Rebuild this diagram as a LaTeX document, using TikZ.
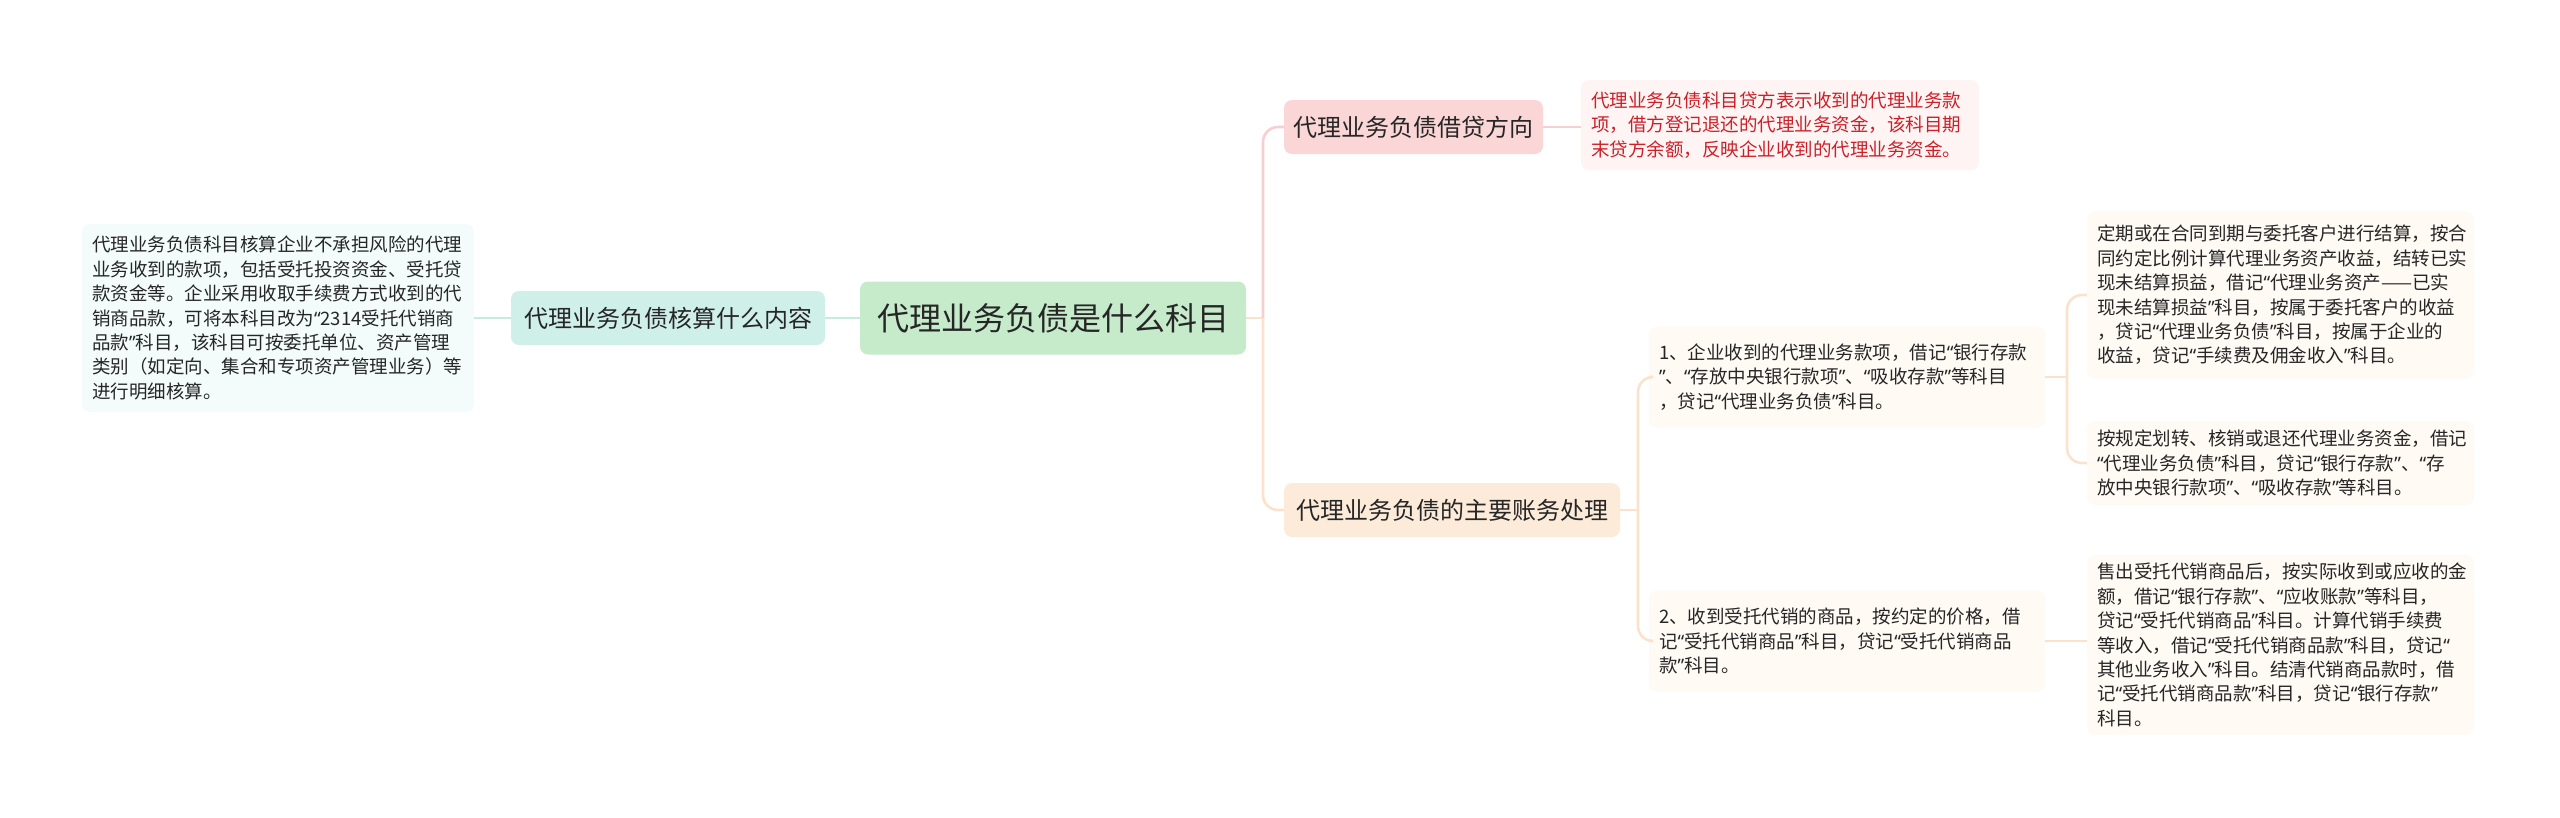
\documentclass[tikz,border=0pt]{standalone}
\usepackage{fontspec}
\setmainfont{Noto Sans CJK SC}
\newfontfamily\qfont{Noto Sans}
\catcode`“=13 \def“{{\qfont\char"201C}}
\catcode`”=13 \def”{{\qfont\char"201D}}
\definecolor{cfill}{HTML}{C6EBCB}
\definecolor{tealfill}{HTML}{CFEFE9}
\definecolor{tealleaf}{HTML}{F3FBFB}
\definecolor{tealline}{HTML}{C6EAE4}
\definecolor{pinkfill}{HTML}{FAD6D6}
\definecolor{pinkleaf}{HTML}{FDF4F3}
\definecolor{pinkline}{HTML}{F6D0D0}
\definecolor{peachfill}{HTML}{FDEBD9}
\definecolor{peachleaf}{HTML}{FFFAF4}
\definecolor{peachline}{HTML}{FBE2CC}
\definecolor{txt}{HTML}{262626}
\definecolor{redtxt}{HTML}{CC1F28}
\newcommand\fsbig{\fontsize{32}{38}\selectfont}
\newcommand\fsmid{\fontsize{24}{30}\selectfont}
\newcommand\fsleaf{\fontsize{18.5}{24.4}\selectfont}
\tikzset{
  box/.style={rounded corners=8pt, inner ysep=0pt, text=txt},
  leafbox/.style={box, align=left, inner xsep=10pt, font=\fsleaf},
  conn/.style={line width=2.6pt},
  rc/.style={rounded corners=15pt}
}
\begin{document}
\begin{tikzpicture}[x=1pt,y=-1pt]
\useasboundingbox (0,0) rectangle (2560,817);
% nodes
\node[box, fill=cfill, minimum width=386pt, minimum height=73pt, font=\fsbig] (central) at (1053,318) {代理业务负债是什么科目};
\node[box, fill=tealfill, minimum width=314pt, minimum height=54pt, font=\fsmid] (left) at (668,318) {代理业务负债核算什么内容};
\node[leafbox, fill=tealleaf, text width=372pt, minimum height=188pt] (lleaf) at (278,318) {代理业务负债科目核算企业不承担风险的代理\\业务收到的款项，包括受托投资资金、受托贷\\款资金等。企业采用收取手续费方式收到的代\\销商品款，可将本科目改为“2314受托代销商\\品款”科目，该科目可按委托单位、资产管理\\类别（如定向、集合和专项资产管理业务）等\\进行明细核算。};
\node[box, fill=pinkfill, minimum width=259pt, minimum height=54pt, font=\fsmid] (b1) at (1413.5,127) {代理业务负债借贷方向};
\node[leafbox, fill=pinkleaf, text=redtxt, text width=378pt, minimum height=90pt] (red) at (1780,125) {代理业务负债科目贷方表示收到的代理业务款\\项，借方登记退还的代理业务资金，该科目期\\末贷方余额，反映企业收到的代理业务资金。};
\node[box, fill=peachfill, minimum width=336pt, minimum height=54pt, font=\fsmid] (b2) at (1452,510) {代理业务负债的主要账务处理};
\node[leafbox, fill=peachleaf, text width=376pt, minimum height=101pt] (s1) at (1847,377) {1、企业收到的代理业务款项，借记“银行存款\\”、“存放中央银行款项”、“吸收存款”等科目\\，贷记“代理业务负债”科目。};
\node[leafbox, fill=peachleaf, text width=376pt, minimum height=101pt] (s2) at (1847,641) {2、收到受托代销的商品，按约定的价格，借\\记“受托代销商品”科目，贷记“受托代销商品\\款”科目。};
\node[leafbox, fill=peachleaf, text width=367pt, minimum height=167pt] (l1a) at (2280.5,295) {定期或在合同到期与委托客户进行结算，按合\\同约定比例计算代理业务资产收益，结转已实\\现未结算损益，借记“代理业务资产——已实\\现未结算损益”科目，按属于委托客户的收益\\，贷记“代理业务负债”科目，按属于企业的\\收益，贷记“手续费及佣金收入”科目。};
\node[leafbox, fill=peachleaf, text width=367pt, minimum height=84pt] (l1b) at (2280.5,463) {按规定划转、核销或退还代理业务资金，借记\\“代理业务负债”科目，贷记“银行存款”、“存\\放中央银行款项”、“吸收存款”等科目。};
\node[leafbox, fill=peachleaf, text width=367pt, minimum height=180pt] (l2a) at (2280.5,645) {售出受托代销商品后，按实际收到或应收的金\\额，借记“银行存款”、“应收账款”等科目，\\贷记“受托代销商品”科目。计算代销手续费\\等收入，借记“受托代销商品款”科目，贷记“\\其他业务收入”科目。结清代销商品款时，借\\记“受托代销商品款”科目，贷记“银行存款”\\科目。};
% connectors
\draw[conn, tealline] (lleaf.east) -- (left.west);
\draw[conn, tealline] (left.east) -- (central.west);
\coordinate (j1) at (1263,318);
\draw[conn, peachline] (central.east) -- (j1);
\draw[conn, pinkline, rc] (j1) |- (b1.west);
\draw[conn, peachline, rc] (j1) |- (b2.west);
\draw[conn, pinkline] (b1.east) -- (b1.east -| red.west);
\coordinate (j2) at (1638,510);
\draw[conn, peachline] (b2.east) -- (j2);
\draw[conn, peachline, rc] (j2) |- (s1.west);
\draw[conn, peachline, rc] (j2) |- (s2.west);
\coordinate (j3) at (2067,377);
\draw[conn, peachline] (s1.east) -- (j3);
\draw[conn, peachline, rc] (j3) |- (l1a.west);
\draw[conn, peachline, rc] (j3) |- (l1b.west);
\draw[conn, peachline] (s2.east) -- (s2.east -| l2a.west);
\end{tikzpicture}
\end{document}
